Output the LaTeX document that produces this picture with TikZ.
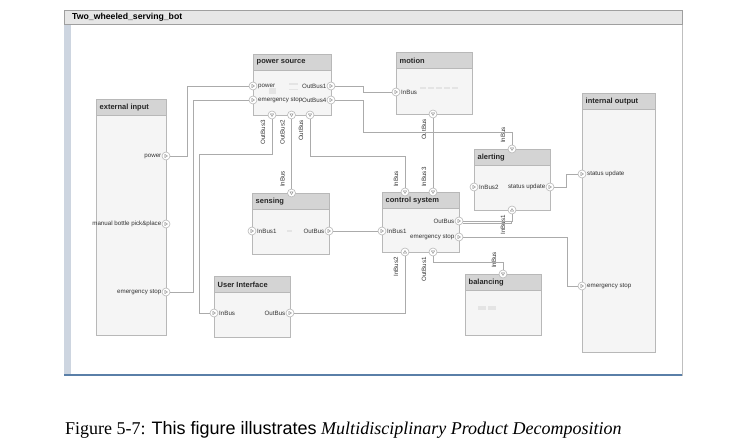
\documentclass[tikz,border=0pt]{standalone}
\usepackage{fontspec}
\setmainfont{Liberation Sans}
\newfontfamily\capserif{Liberation Serif}
\newfontfamily\capsans{Liberation Sans}
\usetikzlibrary{fit}

\definecolor{boxfill}{HTML}{F5F5F5}
\definecolor{boxline}{HTML}{B8B8B8}
\definecolor{hdrfill}{HTML}{D4D4D4}
\definecolor{wirec}{HTML}{ABABAB}
\definecolor{labc}{HTML}{333333}
\definecolor{framebar}{HTML}{CDD5E0}
\definecolor{frameblue}{HTML}{5A7FA8}
\definecolor{titlefill}{HTML}{E6E6E6}
\definecolor{ghost}{HTML}{E4E4E4}
\definecolor{trig}{HTML}{8A8A8A}

\tikzset{
 box/.style={draw=boxline, fill=boxfill, line width=0.8pt, inner sep=0pt},
 hdr/.style={draw=boxline, fill=hdrfill, line width=0.8pt, inner sep=0pt},
 hdrtext/.style={font=\bfseries\fontsize{7.5}{8}\selectfont, anchor=west, inner sep=0pt, text=black!85},
 plab/.style={font=\fontsize{6.2}{7}\selectfont, inner sep=0pt, text=labc},
 wire/.style={draw=wirec, line width=0.6pt},
 ghostbox/.style={fill=ghost, draw=none},
 port/.style={circle, draw=boxline, fill=white, line width=0.6pt, minimum size=8pt, inner sep=0pt},
 pr/.style={port, path picture={\draw[draw=trig, line width=0.4pt] ([shift={(-1.1pt,1.6pt)}]path picture bounding box.center) -- ++(2.6pt,-1.6pt) -- ++(-2.6pt,-1.6pt) -- cycle;}},
 pd/.style={port, path picture={\draw[draw=trig, line width=0.4pt] ([shift={(-1.6pt,1.1pt)}]path picture bounding box.center) -- ++(3.2pt,0pt) -- ++(-1.6pt,-2.6pt) -- cycle;}},
 pu/.style={port, path picture={\draw[draw=trig, line width=0.4pt] ([shift={(-1.6pt,-1.1pt)}]path picture bounding box.center) -- ++(3.2pt,0pt) -- ++(-1.6pt,2.6pt) -- cycle;}},
}

\newcommand\blk[6]{%
 \node[box, fit={(#2,#3) (#4,#5)}] (#1) {};
 \node[hdr, fit={(#2,#3) (#4,#3+16)}] (#1-h) {};
 \node[hdrtext] (#1-t) at (#2+3.5,#3+8.5) {#6};
}

\begin{document}
\begin{tikzpicture}[x=1pt,y=-1pt]
\useasboundingbox (0,0) rectangle (744,446);
\fill[white] (0,0) rectangle (744,446);

% frame
\draw[draw=gray!50, fill=white] (65,10) rectangle (682,375);
\fill[framebar] (64,24) rectangle (71,375);
\draw[draw=gray!75, fill=titlefill, line width=0.8pt] (64,10) rectangle (682,24);
\draw[frameblue, line width=1.8pt] (64,375) -- (682,375);
\node[anchor=west, inner sep=0pt, font=\bfseries\fontsize{8.7}{9}\selectfont] (title) at (72,17) {Two\_wheeled\_serving\_bot};

% blocks
\blk{ext}{96}{99}{166}{335}{external input}
\blk{ps}{253}{54}{331}{115}{power source}
\blk{mo}{396}{52}{472}{114}{motion}
\blk{io}{582}{93}{655}{352}{internal output}
\blk{al}{474}{149}{550}{210}{alerting}
\blk{cs}{382}{192}{459}{252}{control system}
\blk{ba}{465}{274}{541}{335}{balancing}
\blk{se}{252}{193}{329}{254}{sensing}
\blk{ui}{214}{276}{290}{337}{User Interface}

% faint hidden items
\foreach \xx in {420,428,436,444,452} \fill[ghostbox] (\xx,87.5) rectangle (\xx+5.5,89.5);
\fill[ghostbox] (269,88) rectangle (276,94);
\fill[ghostbox] (289,83.5) rectangle (298,85);
\fill[ghostbox] (289,89) rectangle (298,90.5);
\fill[ghostbox] (287,230.3) rectangle (292,231.7);
\fill[ghostbox] (478,306) rectangle (486,310);
\fill[ghostbox] (488,306) rectangle (496,310);

% ports
\node[pr] (ext-power) at (166,156) {};
\node[pr] (ext-manual) at (166,224) {};
\node[pr] (ext-estop) at (166,292) {};
\node[pr] (ps-power) at (253,86) {};
\node[pr] (ps-estop) at (253,100) {};
\node[pr] (ps-out1) at (331,86) {};
\node[pr] (ps-out4) at (331,100) {};
\node[pd] (ps-out3) at (272,115) {};
\node[pd] (ps-out2) at (291.5,115) {};
\node[pd] (ps-out) at (310,115) {};
\node[pr] (mo-in) at (396,92) {};
\node[pd] (mo-out) at (433,114) {};
\node[pr] (io-status) at (582,174) {};
\node[pr] (io-estop) at (582,286) {};
\node[pd] (al-inbus) at (512,149) {};
\node[pr] (al-in2) at (474,187) {};
\node[pr] (al-status) at (550,187) {};
\node[pu] (al-inbus1) at (512,210) {};
\node[pd] (cs-inbus) at (405,192) {};
\node[pd] (cs-inbus3) at (433,192) {};
\node[pr] (cs-in1) at (382,231) {};
\node[pr] (cs-out) at (459,221) {};
\node[pr] (cs-estop) at (459,237) {};
\node[pu] (cs-inbus2) at (405,252) {};
\node[pd] (cs-out1) at (433,252) {};
\node[pd] (ba-inbus) at (503,274) {};
\node[pd] (se-inbus) at (291.5,193) {};
\node[pr] (se-in1) at (252,231) {};
\node[pr] (se-out) at (329,231) {};
\node[pr] (ui-in) at (214,313) {};
\node[pr] (ui-out) at (290,313) {};

% port labels (horizontal)
\node[plab, anchor=east] at (161.5,156) {power};
\node[plab, anchor=east] at (161.5,224) {manual bottle pick\&place};
\node[plab, anchor=east] at (161.5,292) {emergency stop};
\node[plab, anchor=west] at (258,86) {power};
\node[plab, anchor=west] at (258,100) {emergency stop};
\node[plab, anchor=east] at (326.5,86) {OutBus1};
\node[plab, anchor=east] at (326.5,100) {OutBus4};
\node[plab, anchor=west] at (401,92) {InBus};
\node[plab, anchor=west] at (587,174) {status update};
\node[plab, anchor=west] at (587,286) {emergency stop};
\node[plab, anchor=west] at (479,187) {InBus2};
\node[plab, anchor=east] at (545.5,187) {status update};
\node[plab, anchor=west] at (387,231) {InBus1};
\node[plab, anchor=east] at (454.5,221) {OutBus};
\node[plab, anchor=east] at (454.5,237) {emergency stop};
\node[plab, anchor=west] at (257,231) {InBus1};
\node[plab, anchor=east] at (324.5,231) {OutBus};
\node[plab, anchor=west] at (219,313) {InBus};
\node[plab, anchor=east] at (285.5,313) {OutBus};

% port labels (rotated)
\node[plab, rotate=90, anchor=east] at (263,120) {OutBus3};
\node[plab, rotate=90, anchor=east] at (282.5,120) {OutBus2};
\node[plab, rotate=90, anchor=east] at (301,120) {OutBus};
\node[plab, rotate=90, anchor=east] at (424,119) {OutBus};
\node[plab, rotate=90, anchor=west] at (282.5,187) {InBus};
\node[plab, rotate=90, anchor=west] at (503,143) {InBus};
\node[plab, rotate=90, anchor=east] at (503,215) {InBus1};
\node[plab, rotate=90, anchor=west] at (396,187) {InBus};
\node[plab, rotate=90, anchor=west] at (424,187) {InBus3};
\node[plab, rotate=90, anchor=east] at (396,257) {InBus2};
\node[plab, rotate=90, anchor=east] at (424,257) {OutBus1};
\node[plab, rotate=90, anchor=west] at (494,268) {InBus};

% connectors
\draw[wire] (ext-power) -- (187,156) -- (187,86) -- (ps-power);
\draw[wire] (ext-estop) -- (193,292) -- (193,100) -- (ps-estop);
\draw[wire] (ps-out1) -- (363,86) -- (363,92) -- (mo-in);
\draw[wire] (ps-out4) -- (363,100) -- (363,132) -- (512,132) -- (al-inbus);
\draw[wire] (ps-out3) -- (272,154) -- (199,154) -- (199,313) -- (ui-in);
\draw[wire] (ps-out2) -- (se-inbus);
\draw[wire] (ps-out) -- (310,156) -- (405,156) -- (cs-inbus);
\draw[wire] (mo-out) -- (cs-inbus3);
\draw[wire] (se-out) -- (cs-in1);
\draw[wire] (ui-out) -- (405,313) -- (cs-inbus2);
\draw[wire] (cs-out) -- (512,221) -- (al-inbus1);
\draw[wire] ([yshift=-2pt]cs-out.east) -- (511,223) -- (511,221);
\draw[wire] (cs-estop) -- (567,237) -- (567,286) -- (io-estop);
\draw[wire] (cs-out1) -- (433,262) -- (503,262) -- (ba-inbus);
\draw[wire] (al-status) -- (566,187) -- (566,174) -- (io-status);

% caption
\node[anchor=base west, inner sep=0pt] (cap) at (65,434) {\fontsize{18}{21}\selectfont\capserif Figure 5-7: {\capsans This figure illustrates} {\itshape Multidisciplinary Product Decomposition}};
\end{tikzpicture}
\end{document}
